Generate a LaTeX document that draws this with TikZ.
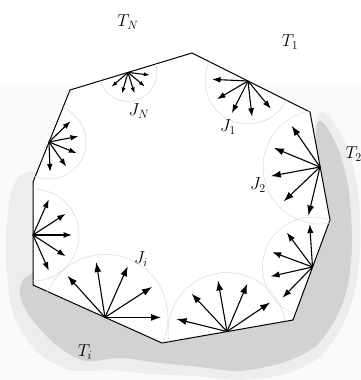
\documentclass[tikz,border=0pt]{standalone}
\usetikzlibrary{arrows.meta}

\begin{document}
\begin{tikzpicture}[x=1pt, y=1pt,
    ray/.style={line width=1.1pt},
    fanarc/.style={gray!30, line width=0.5pt},
    tag/.style={font=\LARGE}]
    \useasboundingbox (0,0) rectangle (361,380);

    % scan tone and the ground round the body
    \fill[gray!4] (0,0) rectangle (361,295);
    \fill[gray!14] plot[smooth cycle] coordinates {(322,268) (344,240) (358,190) (360,130) (354,85) (340,50) (318,22) (285,6) (240,0) (195,4) (150,6) (110,10) (70,10) (35,30) (12,70) (6,130) (12,190) (40,210) (180,200) (300,240)};
    \fill[gray!35] plot[smooth cycle] coordinates {(318,258) (336,236) (348,195) (352,140) (348,95) (336,62) (316,34) (285,18) (240,9) (200,13) (160,17) (120,22) (85,19) (55,36) (28,66) (20,92) (40,110) (160,150) (300,200)};

    % corners of the body
    \coordinate (a) at (192,327);
    \coordinate (b) at (310,268);
    \coordinate (c) at (330,160);
    \coordinate (d) at (293,60);
    \coordinate (e) at (162,37);
    \coordinate (f) at (33,95);
    \coordinate (g) at (33,198);
    \coordinate (h) at (70,290);
    \filldraw[fill=white, line width=1pt] (a) -- (b) -- (c) -- (d) -- (e) -- (f) -- (g) -- (h) -- cycle;

    % fan origins on the edges
    \coordinate (fanN) at (128,307.6);
    \coordinate (fanone) at (248,299);
    \coordinate (fantwo) at (320,213);
    \coordinate (fanthree) at (312.5,113);
    \coordinate (fanfour) at (227,48.4);
    \coordinate (fani) at (105,62.6);
    \coordinate (fanfive) at (33,145);
    \coordinate (fansix) at (49,238);

    \foreach \f/\c/\r/\h in {fanN/287/22/6pt, fanone/243.4/36/8.5pt, fantwo/190.5/50/10pt,
        fanthree/159.7/43/9pt, fanfour/100/52/10pt, fani/66/56/10pt,
        fanfive/0/39/8.5pt, fansix/338/30/8pt} {
      \draw[fanarc] (\f) ++(\c-90:\r+7) arc[start angle=\c-90, end angle=\c+90, radius=\r+7];
      \foreach \d in {-66,-33,0,33,66}
        \draw[ray, -{Latex[length=\h, width=0.7*\h]}] (\f) -- ++(\c+\d:\r);
    }

    % labels
    \node (tN) [tag] at (128,358) {$T_N$};
    \node (tone) [tag] at (290,338) {$T_1$};
    \node (ttwo) [tag, anchor=west] at (342,226) {$T_2$};
    \node (ti) [tag] at (85,28) {$T_i$};
    \node (jN) [tag] at (139,269) {$J_N$};
    \node (jone) [tag] at (228,253) {$J_1$};
    \node (jtwo) [tag] at (258,195) {$J_2$};
    \node (ji) [tag] at (141,121) {$J_i$};
\end{tikzpicture}
\end{document}
